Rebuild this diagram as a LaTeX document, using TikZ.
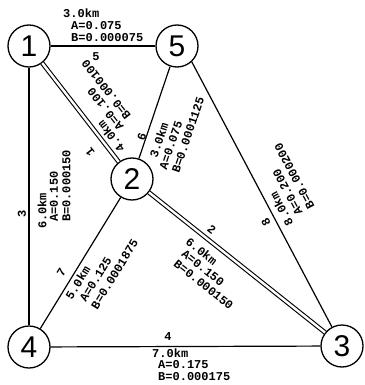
\documentclass[tikz,border=0pt]{standalone}
\usepackage{fontspec}
\newfontfamily\labfont{Liberation Mono}
\newfontfamily\numfont{Liberation Sans}
\tikzset{
  circ/.style={circle,draw,line width=1.3pt,minimum size=42pt,inner sep=0pt,font=\numfont\fontsize{30}{30}\selectfont},
  edge/.style={line width=1.2pt},
  dbl/.style={double,double distance=2.4pt,line width=1.1pt},
  lab/.style={inner sep=0pt,anchor=west,font=\labfont\bfseries\fontsize{12}{12}\selectfont},
  num/.style={inner sep=0pt,font=\labfont\bfseries\fontsize{12}{12}\selectfont},
}
\begin{document}
\begin{tikzpicture}[x=1pt,y=-1pt]
\useasboundingbox (0,0) rectangle (364,385);
% nodes
\node[circ] (n1) at (29,46) {1};
\node[circ] (n5) at (177,46) {5};
\node[circ] (n2) at (132,179) {2};
\node[circ] (n4) at (29,347) {4};
\node[circ] (n3) at (342,346) {3};
% edges
\draw[edge] (n1) -- (n5);
\draw[edge] (n1) -- (n4);
\draw[dbl] (n1) -- (n2);
\draw[dbl] (n2) -- (n3);
\draw[edge] (n2) -- (n5);
\draw[edge] (n2) -- (n4);
\draw[edge] (n4) -- (n3);
\draw[edge] (n5.-47) -- (n3);
% edge 5 (1-5)
\node[lab] (e5a) at (63,13.5) {3.0km};
\node[lab] (e5b) at (71,25.5) {A=0.075};
\node[lab] (e5c) at (71,37.5) {B=0.000075};
\node[num] (e5n) at (96,57) {5};
% edge 3 (1-4)
\node[lab,rotate=90] (e3a) at (42,229) {6.0km};
\node[lab,rotate=90] (e3b) at (54,222) {A=0.150};
\node[lab,rotate=90] (e3c) at (66.5,222) {B=0.000150};
\node[num,rotate=90] (e3n) at (22,214) {3};
% edge 4 (4-3)
\node[lab] (e4a) at (152,353.5) {7.0km};
\node[lab] (e4b) at (158,365) {A=0.175};
\node[lab] (e4c) at (158,377) {B=0.000175};
\node[num] (e4n) at (168,337) {4};
% edge 7 (2-4)
\node[lab,rotate=58.5] (e7a) at (68.2,298.3) {5.0km};
\node[lab,rotate=58.5] (e7b) at (82.4,301.1) {A=0.125};
\node[lab,rotate=58.5] (e7c) at (93.9,308.2) {B=0.0001875};
\node[num,rotate=58.5] (e7n) at (61.5,272) {7};
% edge 2 (2-3)
\node[lab,rotate=-38.5] (e2a) at (187.3,239.6) {6.0km};
\node[lab,rotate=-38.5] (e2b) at (183.1,252.2) {A=0.150};
\node[lab,rotate=-38.5] (e2c) at (175.3,262.0) {B=0.000150};
\node[num,rotate=-38.5] (e2n) at (211.7,230) {2};
% edge 1 (1-2)
\node[lab,rotate=128] (e1a) at (122.2,150.9) {4.0km};
\node[lab,rotate=128] (e1b) at (121.1,129.0) {A=0.100};
\node[lab,rotate=128] (e1c) at (128.5,118.2) {B=0.000100};
\node[num,rotate=128] (e1n) at (90,152) {1};
% edge 6 (2-5)
\node[lab,rotate=71.3] (e6a) at (153,157.6) {3.0km};
\node[lab,rotate=71.3] (e6b) at (162.7,169.3) {A=0.075};
\node[lab,rotate=71.3] (e6c) at (175.3,172.6) {B=0.0001125};
\node[num,rotate=71.3] (e6n) at (141.7,136.7) {6};
% edge 8 (5-3)
\node[lab,rotate=118.1] (e8a) at (289.9,225.3) {8.0km};
\node[lab,rotate=118.1] (e8b) at (299.5,214.5) {A=0.200};
\node[lab,rotate=118.1] (e8c) at (311.4,208.1) {B=0.000200};
\node[num,rotate=118.1] (e8n) at (266,222) {8};
\end{tikzpicture}
\end{document}
